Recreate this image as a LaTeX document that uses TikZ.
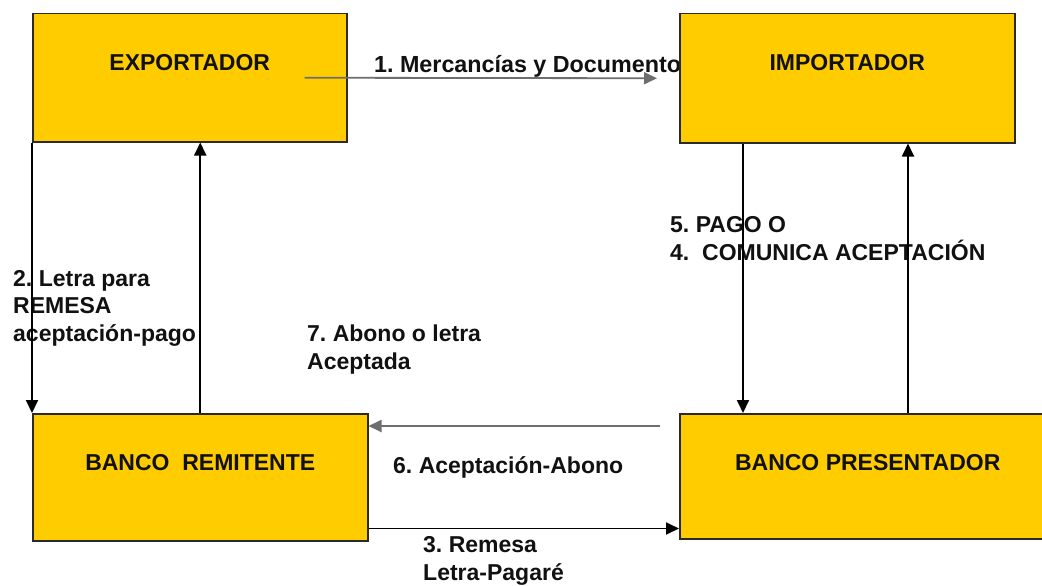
\documentclass[tikz,border=0pt]{standalone}
\usepackage{fontspec}
\setmainfont{Liberation Sans}
\usetikzlibrary{arrows.meta,calc,backgrounds}
\definecolor{boxfill}{HTML}{FFCC00}
\definecolor{boxline}{HTML}{2A2A2A}
\definecolor{greyline}{HTML}{6E6E6E}
\definecolor{txt}{HTML}{111111}
\frenchspacing
\begin{document}
\begin{tikzpicture}[x=1pt,y=-1pt,
  box/.style={draw=boxline, line width=1.5pt, fill=boxfill, rectangle, inner sep=0pt, anchor=north west},
  boxtext/.style={font=\fontsize{23}{27.5}\selectfont\bfseries, text=txt, anchor=center, yshift=-50pt, inner sep=0pt},
  lbl/.style={font=\fontsize{23}{27.5}\selectfont\bfseries, text=txt, inner sep=0pt},
  arr/.style={line width=1.8pt, -{Triangle[length=13pt,width=12pt]}}
]
\useasboundingbox (0,0) rectangle (1042,586);
\clip (0,0) rectangle (1042,586);

% boxes
\node[box, minimum width=314pt, minimum height=128pt, label={[boxtext]north:EXPORTADOR}] (exp) at (32,13) {};
\node[box, minimum width=335pt, minimum height=129pt, label={[boxtext]north:IMPORTADOR}] (imp) at (679,13) {};
\node[box, minimum width=335pt, minimum height=127pt, label={[boxtext]north:BANCO\ \ REMITENTE}] (br) at (32,413) {};
\node[box, minimum width=376pt, minimum height=125pt, label={[boxtext]north:BANCO PRESENTADOR}] (bp) at (679,413) {};

% labels (behind boxes and connectors)
\begin{scope}[on background layer]
\fill[white] (0,0) rectangle (1042,586);
\node[lbl, anchor=base west, font=\fontsize{23.3}{27.5}\selectfont\bfseries] (l1) at (374,73) {1. Mercancías y Documentos};
\node[lbl, anchor=north west, align=left] (l2) at (13,270) {2. Letra para\\REMESA\\aceptación-pago};
\node[lbl, anchor=north west, align=left] (l7) at (307,325) {7. Abono o letra\\Aceptada};
\node[lbl, anchor=north west, align=left] (l5) at (670,216.5) {5. PAGO O\\4.\ \ COMUNICA ACEPTACIÓN};
\node[lbl, anchor=base west] (l6) at (393,473) {6. Aceptación-Abono};
\node[lbl, anchor=north west, align=left] (l3) at (423,536.5) {3. Remesa\\Letra-Pagaré};
\end{scope}

% connectors
\draw[arr, greyline] ($(exp.east)+(-43,0)$) -- ($(imp.west)+(-22,0)$);
\draw[arr] (exp.south west) -- (br.north west);
\draw[arr] (br.north) -- (br.north |- exp.south);
\coordinate (p5) at ($(imp.south west)+(64,0)$);
\draw[arr] (p5) -- (p5 |- bp.north);
\coordinate (p8) at ($(bp.north west)+(229,0)$);
\draw[arr] (p8) -- (p8 |- imp.south);
\draw[arr, greyline] ($(bp.north west)+(-19,13)$) -- ($(br.north east)+(0,13)$);
\coordinate (p3) at ($(br.south east)+(0,-13)$);
\draw[arr] (p3) -- (p3 -| bp.west);
\end{tikzpicture}
\end{document}
